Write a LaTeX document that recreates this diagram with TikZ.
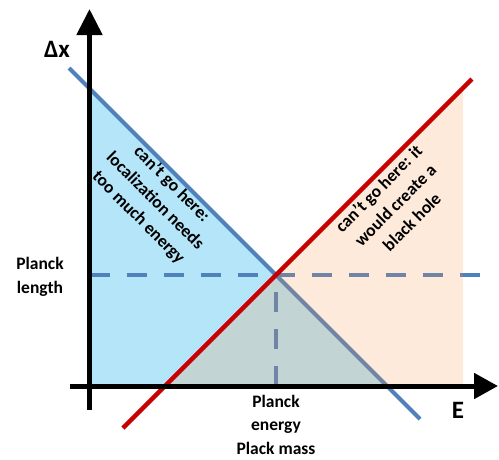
\documentclass[tikz,border=0pt]{standalone}
\usepackage{fontspec}
\setmainfont{Carlito}
\usetikzlibrary{arrows.meta}
\definecolor{bluefill}{HTML}{B5E5F8}
\definecolor{blueline}{HTML}{4F81BD}
\definecolor{redline}{HTML}{C80000}
\definecolor{peach}{HTML}{F79646}
\tikzset{
  axis/.style={line width=5pt, black},
  bline/.style={line width=4.2pt, blueline},
  rline/.style={line width=4.5pt, redline},
  dline/.style={line width=4.5pt, blueline, dash pattern=on 20pt off 17pt},
  lbl/.style={font=\fontsize{17.5}{23.5}\selectfont\bfseries, align=center, inner sep=0pt},
  big/.style={font=\fontsize{25}{28}\selectfont\bfseries, inner sep=0pt}
}
\begin{document}
\begin{tikzpicture}[x=1pt,y=-1pt]
\useasboundingbox (0,0) rectangle (499,459);
% key points
\coordinate (P) at (276,275);
\coordinate (b1) at (69,68);
\coordinate (b2) at (420,419);
\coordinate (r1) at (123,428);
\coordinate (r2) at (472,79);
\coordinate (ytop) at (89.5,9);
\coordinate (ybot) at (89.5,410);
\coordinate (xl) at (70,386);
\coordinate (xr) at (498,386);
\coordinate (hl) at (89.5,275);
\coordinate (hr) at (480,275);
\coordinate (vb) at (276,386);
% blue region
\fill[bluefill] (89.5,88.5) -- (89.5,386) -- (387,386) -- cycle;
% blue line and dashed lines
\draw[bline] (b1) -- (b2);
\draw[dline] (hl) -- (hr);
\draw[dline] (vb) -- (P);
% peach region (translucent)
\fill[peach, fill opacity=0.2] (165,386) -- (463,88) -- (463,386) -- cycle;
% red line
\draw[rline] (r1) -- (r2);
% axes
\draw[axis, -{Triangle[width=25pt,length=26pt]}] (ybot) -- (ytop);
\draw[axis, -{Triangle[width=25pt,length=24pt]}] (xl) -- (xr);
% labels
\node[big] (dx) at (57,49) {Δx};
\node[big] (E) at (458,410) {E};
\node[lbl] (pl) at (40,277) {Planck\\length};
\node[lbl] (pe) at (276,424.5) {Planck\\energy\\Plack mass};
\node[lbl, rotate=-45] (tb) at (155,201) {can’t go here:\\localization needs\\too much energy};
\node[lbl, rotate=45] (tr) at (395,205) {can’t go here: it\\would create a\\black hole};
\end{tikzpicture}
\end{document}
